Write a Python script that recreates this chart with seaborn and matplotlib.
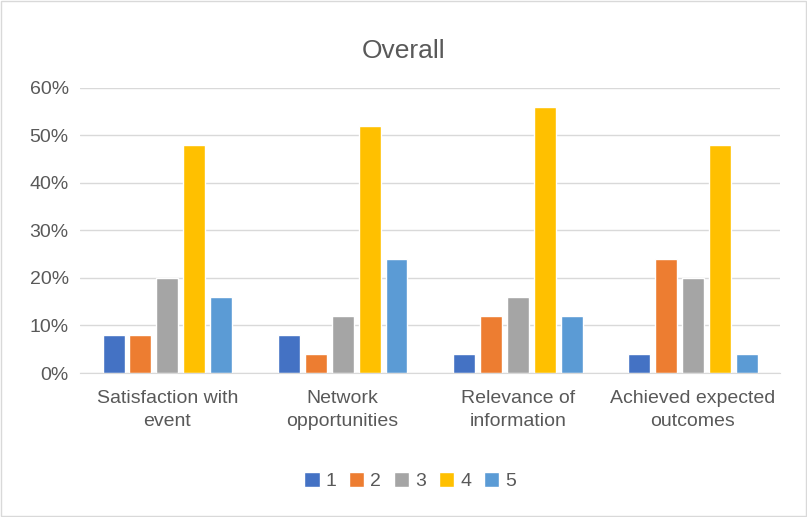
import pandas as pd
import seaborn as sns
import matplotlib.pyplot as plt
from matplotlib.ticker import PercentFormatter

categories = ['Satisfaction with\nevent', 'Network\nopportunities',
              'Relevance of\ninformation', 'Achieved expected\noutcomes']
ratings = ['1', '2', '3', '4', '5']
# share of responses per rating, one list per category
satisfaction = [0.08, 0.08, 0.20, 0.48, 0.16]
network = [0.08, 0.04, 0.12, 0.52, 0.24]
relevance = [0.04, 0.12, 0.16, 0.56, 0.12]
achieved = [0.04, 0.24, 0.20, 0.48, 0.04]
colors = ['#4472C4', '#ED7D31', '#A5A5A5', '#FFC000', '#5B9BD5']

rows = []
for cat, vals in zip(categories, [satisfaction, network, relevance, achieved]):
    for r, v in zip(ratings, vals):
        rows.append({'category': cat, 'rating': r, 'share': v})
df = pd.DataFrame(rows)

sns.set_style('white')
plt.rcParams['font.family'] = ['Liberation Sans', 'DejaVu Sans']
text_col = '#595959'

fig = plt.figure(figsize=(8.07, 5.17), dpi=100)
ax = fig.add_axes([0.099, 0.2785, 0.868, 0.5515])
sns.barplot(data=df, x='category', y='share', hue='rating', palette=colors,
            saturation=1, width=0.77, gap=0.185, ax=ax, legend=True)

ax.set_ylim(0, 0.6)
ax.set_yticks([0, 0.1, 0.2, 0.3, 0.4, 0.5, 0.6])
ax.yaxis.set_major_formatter(PercentFormatter(1.0, decimals=0))
ax.grid(axis='y', color='#D9D9D9', linewidth=1)
ax.set_axisbelow(True)
for s in ['top', 'right', 'left']:
    ax.spines[s].set_visible(False)
ax.spines['bottom'].set_color('#D9D9D9')
ax.set_xlabel('')
ax.set_ylabel('')
ax.tick_params(axis='both', length=0, labelsize=14, colors=text_col)
ax.tick_params(axis='x', pad=12)
ax.tick_params(axis='y', pad=8)
for lbl in ax.get_xticklabels():
    lbl.set_linespacing(1.45)
ax.set_xlim(-0.5, 3.5)

fig.suptitle('Overall', x=0.5, y=0.925, fontsize=19, color=text_col)

handles, labels = ax.get_legend_handles_labels()
ax.legend_.remove()
fig.legend(handles, labels, loc='center', bbox_to_anchor=(0.508, 0.07), ncol=5,
           frameon=False, fontsize=14, handlelength=0.8, handleheight=0.8,
           handletextpad=0.3, columnspacing=0.65, labelcolor=text_col)

fig.patches.append(plt.Rectangle((0.001, 0.001), 0.998, 0.997, transform=fig.transFigure,
                                 fill=False, edgecolor='#D9D9D9', linewidth=1))
fig.savefig('out.png', dpi=100, facecolor='white')
